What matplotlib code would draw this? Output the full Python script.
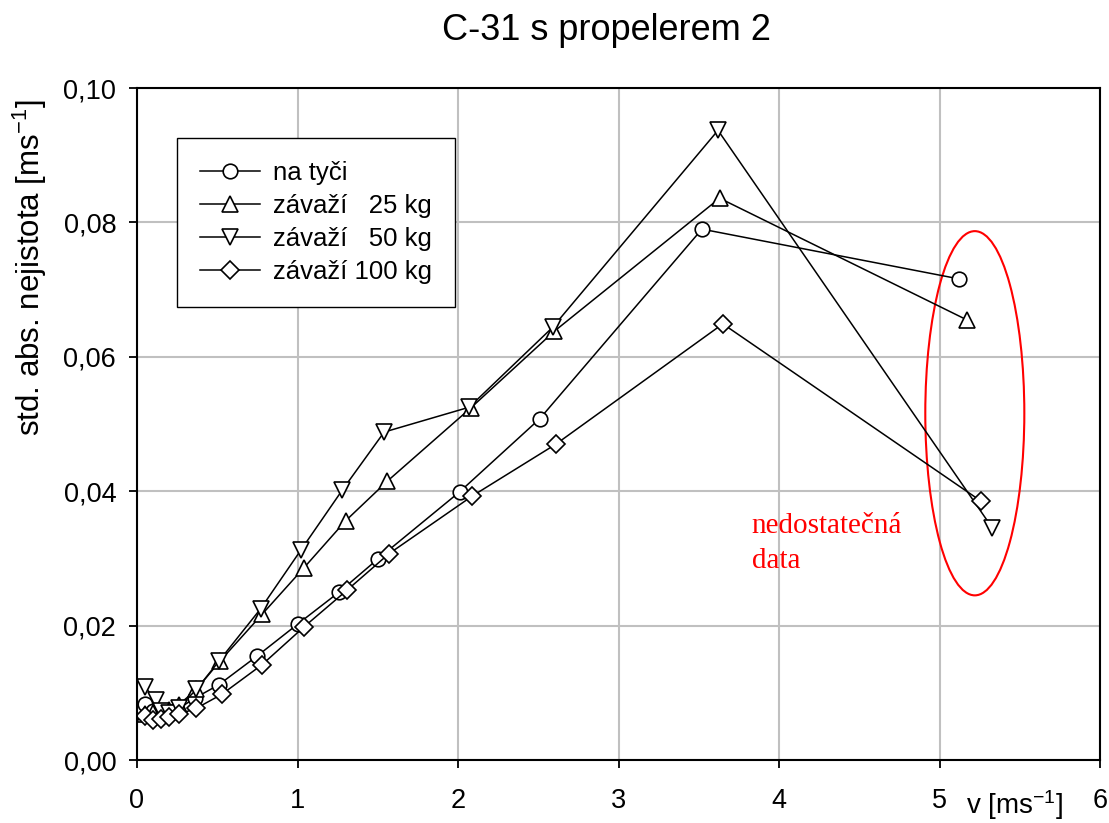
import matplotlib
matplotlib.use("Agg")
import matplotlib.pyplot as plt
import matplotlib.patches as patches
from matplotlib.ticker import FuncFormatter, MultipleLocator

plt.rcParams['font.family'] = ['Liberation Sans', 'DejaVu Sans']
plt.rcParams['mathtext.fontset'] = 'custom'
plt.rcParams['mathtext.rm'] = 'Liberation Sans'
plt.rcParams['mathtext.it'] = 'Liberation Sans:italic'

# data
v_tyc = [0.05, 0.10, 0.15, 0.20, 0.25, 0.36, 0.51, 0.75, 1.00, 1.26, 1.50, 2.01, 2.51, 3.52, 5.12]
u_tyc = [0.0083, 0.0073, 0.0070, 0.0071, 0.0075, 0.0092, 0.0112, 0.0155, 0.0202, 0.0250, 0.0299, 0.0399, 0.0508, 0.0790, 0.0716]

v_25 = [0.05, 0.10, 0.15, 0.20, 0.26, 0.37, 0.52, 0.78, 1.04, 1.30, 1.56, 2.08, 2.60, 3.63, 5.17]
u_25 = [0.0068, 0.0070, 0.0071, 0.0074, 0.0082, 0.0105, 0.0148, 0.0217, 0.0286, 0.0356, 0.0415, 0.0524, 0.0638, 0.0836, 0.0655]

v_50 = [0.05, 0.12, 0.15, 0.20, 0.26, 0.37, 0.51, 0.77, 1.02, 1.28, 1.54, 2.07, 2.59, 3.62, 5.33]
u_50 = [0.0108, 0.0090, 0.0073, 0.0070, 0.0078, 0.0105, 0.0147, 0.0225, 0.0312, 0.0402, 0.0488, 0.0525, 0.0644, 0.0937, 0.0345]

v_100 = [0.05, 0.10, 0.15, 0.20, 0.26, 0.37, 0.53, 0.78, 1.04, 1.31, 1.57, 2.09, 2.61, 3.65, 5.26]
u_100 = [0.0065, 0.0060, 0.0061, 0.0064, 0.0068, 0.0077, 0.0098, 0.0142, 0.0198, 0.0253, 0.0307, 0.0393, 0.0470, 0.0649, 0.0385]

labels = ['na tyči', 'závaží   25 kg', 'závaží   50 kg', 'závaží 100 kg']

fig = plt.figure(figsize=(11.09, 8.23), dpi=100)
ax = fig.add_axes([137 / 1109, 1 - 760 / 823, 963 / 1109, 672 / 823])

style = dict(color='black', lw=1.1, mfc='white', mec='black', mew=1.2)
ax.plot(v_tyc, u_tyc, marker='o', ms=10.5, label=labels[0], **style)
ax.plot(v_25, u_25, marker='^', ms=12, label=labels[1], **style)
ax.plot(v_50, u_50, marker='v', ms=12, label=labels[2], **style)
ax.plot(v_100, u_100, marker='D', ms=9.5, label=labels[3], **style)

# ellipse around the points with too little data
ell = patches.Ellipse((5.22, 0.0516), 0.617, 0.0542, fill=False, edgecolor='red', lw=1.5)
ax.add_patch(ell)
ax.text(3.83, 0.0367, 'nedostatečná\ndata', color='red', family=['Liberation Serif', 'DejaVu Serif'],
        fontsize=21, ha='left', va='top', linespacing=1.45)

ax.set_xlim(0, 6)
ax.set_ylim(0, 0.10)
ax.xaxis.set_major_locator(MultipleLocator(1))
ax.yaxis.set_major_locator(MultipleLocator(0.02))
ax.yaxis.set_major_formatter(FuncFormatter(lambda y, p: f'{y:.2f}'.replace('.', ',')))
ax.grid(True, color='#c0c0c0', lw=1.5)
ax.set_axisbelow(True)
ax.tick_params(direction='out', length=6, width=1.3, labelsize=19.5)
ax.tick_params(axis='x', pad=14)
ax.tick_params(axis='y', pad=9)
for s in ax.spines.values():
    s.set_linewidth(1.5)

fig.text(606 / 1109, 1 - 40 / 823, 'C-31 s propelerem 2', fontsize=26, ha='center', va='baseline')
ax.set_ylabel('std. abs. nejistota [ms$^{-1}$]', fontsize=22.5)
ax.yaxis.set_label_coords(-0.091, 0.732)
fig.text(1015 / 1109, 1 - 805 / 823, 'v [ms$^{-1}$]', fontsize=20, ha='center', va='center')

leg = ax.legend(loc='upper left', bbox_to_anchor=(0.0415, 0.9256), borderaxespad=0,
                fontsize=18.5, handlelength=2.35, handletextpad=0.5, labelspacing=0.35,
                borderpad=0.9, fancybox=False, framealpha=1)
leg.get_frame().set_edgecolor('black')
leg.get_frame().set_linewidth(1.0)

fig.savefig('out.png', dpi=100)
